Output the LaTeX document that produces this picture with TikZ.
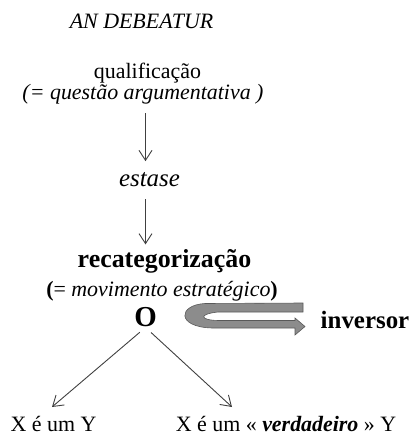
\documentclass[tikz,border=0pt]{standalone}
\usepackage{fontspec}
\setmainfont{Liberation Serif}
\usetikzlibrary{arrows.meta}
\tikzset{
  txt/.style={inner sep=0pt, font=\fontsize{22}{26}\selectfont
  },
  bigtxt/.style={inner sep=0pt, font=\fontsize{26}{30}\selectfont\bfseries
  },
  arr/.style={
    -{Straight Barb[length=10bp,width=13bp]}, line width=0.9bp, black!75
  },
  ribbon/.style={
    fill=black!45, draw=black!65, line width=0.6bp
  }
}

\begin{document}
\begin{tikzpicture}[x=1bp,y=-1bp]
 \useasboundingbox (0,0) rectangle (415,436);

 \node[txt] (deb) at (141.5,21.5) {\textit{AN DEBEATUR}};
 \node[txt] (qual) at (147.5,73) {qualificação};
 \node[txt] (quest) at (143,94) {\textit{(= questão argumentativa )}};
 \node[txt, font=\fontsize{25}{30}\selectfont] (est) at (149.5,180) {\textit{estase}};
 \node[bigtxt] (recat) at (164.5,261.5) {recategorização};
 \node[txt] (mov) at (162,291) {\textbf{(}= \textit{movimento estratégico}\textbf{)}};
 \node[bigtxt, font=\fontsize{29}{32}\selectfont\bfseries] (O) at (145.5,317.5) {O};
 \node[bigtxt, font=\fontsize{25}{30}\selectfont\bfseries] (inv) at (365,320) {inversor};
 \node[txt] (xy) at (53.5,423.5) {X é um Y};
 \node[txt] (xvy) at (286,423.5) {X é um « \textbf{\textit{verdadeiro}} » Y};
 \coordinate (lt) at (52,407);
 \coordinate (rt) at (232,407);

 \draw[arr, shorten <=9bp, shorten >=11.5bp] (quest.south -| O) -- (est.north -| O);
 \draw[arr, shorten <=12bp, shorten >=5bp] (est.south -| O) -- (recat.north -| O);
 \draw[arr, shorten <=7.5bp] (O.south) -- (lt);
 \draw[arr, shorten <=7.5bp] (O.south) -- (rt);

 % the ribbon turning back towards "inversor"
 \filldraw[ribbon] (303,303) -- (205,303.5)
   .. controls (178,305) and (176,327) .. (212,328)
   -- (295,328) -- (295,335) -- (305,326.5) -- (295,318) -- (295,320.5)
   -- (218,320.5) .. controls (199,320) and (199,314) .. (218,312)
   -- (303,312) -- cycle;
\end{tikzpicture}
\end{document}
